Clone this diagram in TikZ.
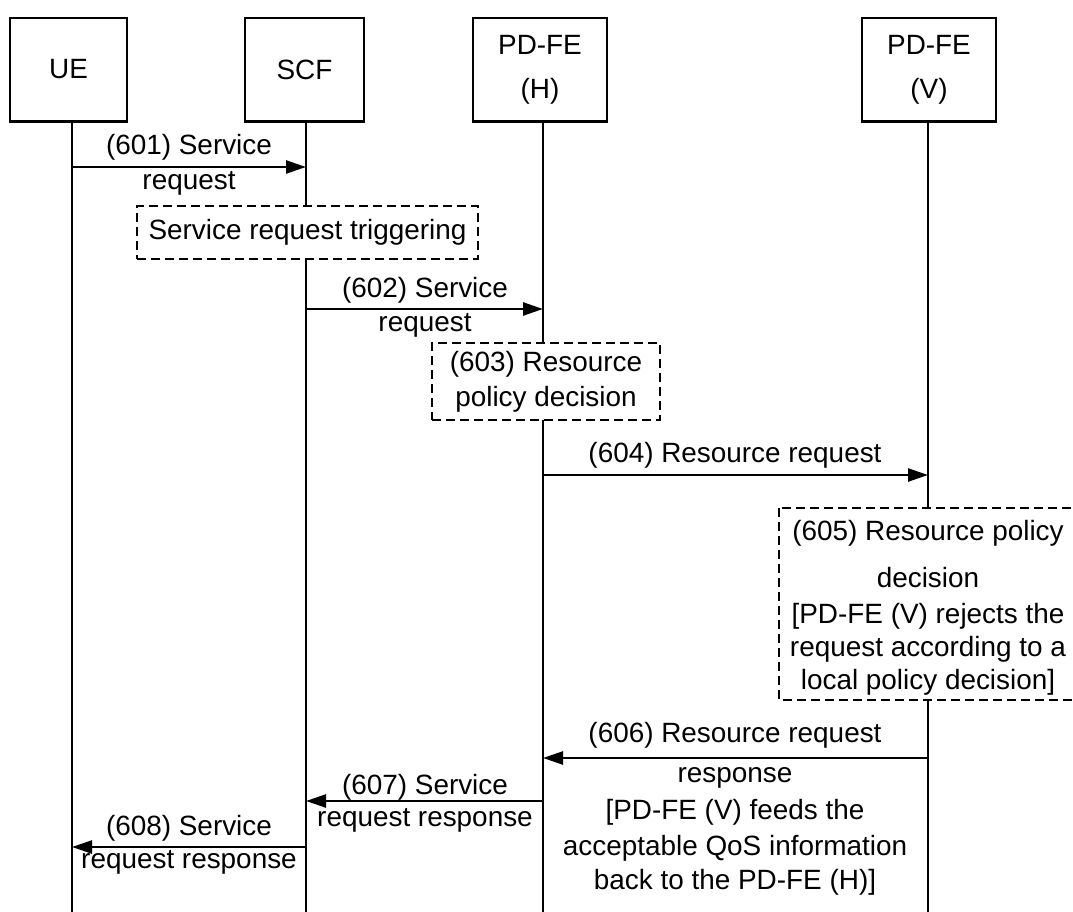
\documentclass[tikz,border=0pt]{standalone}
\usepackage{fontspec}
\setmainfont{Liberation Sans}
\usetikzlibrary{arrows.meta}
\begin{document}
\begin{tikzpicture}[x=1bp,y=-1bp,
  font=\fontsize{28}{35}\selectfont,
  actor/.style={draw, line width=1.5bp, minimum height=103bp, inner sep=0pt, align=center},
  actorbase/.style={line width=3bp},
  life/.style={line width=1.5bp},
  msg/.style={line width=2.5bp, -{Triangle[length=20bp,width=13bp]}},
  note/.style={draw, dash pattern=on 9bp off 5bp, line width=1.5bp, fill=white, align=center, inner sep=0pt},
  lbl/.style={align=center, inner sep=0pt}]
\useasboundingbox (0,0) rectangle (1073,912);
\clip (0,0) rectangle (1073,912);
% actors
\node[actor, minimum width=117bp] (ue) at (68.5,69.5) {UE};
\node[actor, minimum width=119bp] (scf) at (304.5,69.5) {SCF};
\node[actor, minimum width=134bp, font=\fontsize{28}{44}\selectfont] (pdh) at (540,69.5) {PD-FE\\(H)};
\node[actor, minimum width=134bp, font=\fontsize{28}{44}\selectfont] (pdv) at (929,69.5) {PD-FE\\(V)};
\draw[actorbase] (ue.south west) -- (ue.south east);
\draw[actorbase] (scf.south west) -- (scf.south east);
\draw[actorbase] (pdh.south west) -- (pdh.south east);
\draw[actorbase] (pdv.south west) -- (pdv.south east);
% lifeline ends
\coordinate (ueL) at (72,912);
\coordinate (scfL) at (306,912);
\coordinate (pdhL) at (543,912);
\coordinate (pdvL) at (928,912);
\draw[life] (ue.south -| ueL) -- (ueL);
\draw[life] (scf.south -| scfL) -- (scfL);
\draw[life] (pdh.south -| pdhL) -- (pdhL);
\draw[life] (pdv.south -| pdvL) -- (pdvL);
% message end points
\path (ueL |- 0,167) coordinate (m1s) (scfL |- 0,167) coordinate (m1e)
      (scfL |- 0,309) coordinate (m2s) (pdhL |- 0,309) coordinate (m2e)
      (pdhL |- 0,475) coordinate (m4s) (pdvL |- 0,475) coordinate (m4e)
      (pdvL |- 0,758) coordinate (m6s) (pdhL |- 0,758) coordinate (m6e)
      (pdhL |- 0,801) coordinate (m7s) (scfL |- 0,801) coordinate (m7e)
      (scfL |- 0,847) coordinate (m8s) (ueL |- 0,847) coordinate (m8e);
% notes
\node[note, minimum width=341bp, minimum height=53bp] (trig) at (307.5,232.5) {Service request triggering};
\node[note, minimum width=228bp, minimum height=77bp, font=\fontsize{28}{35}\selectfont] (n603) at (546,381.5) {(603) Resource\\policy decision};
\draw[note] (779,508) rectangle (1090,700);
\node[lbl] (n605a) at (928,533) {(605) Resource policy};
\node[lbl] (n605b) at (928,578) {decision};
\node[lbl] (n605c) at (928,616) {{[}PD-FE (V) rejects the};
\node[lbl] (n605d) at (928,649) {request according to a};
\node[lbl] (n605e) at (928,682) {local policy decision{]}};
% messages
\draw[msg] (m1s) -- (m1e);
\node[lbl] (l1a) at (189,147) {(601) Service};
\node[lbl] (l1b) at (189,183) {request};
\draw[msg] (m2s) -- (m2e);
\node[lbl] (l2a) at (425,290) {(602) Service};
\node[lbl] (l2b) at (425,325) {request};
\draw[msg] (m4s) -- (m4e);
\node[lbl] (l4) at (735,455) {(604) Resource request};
\draw[msg] (m6s) -- (m6e);
\node[lbl] (l6a) at (735,735) {(606) Resource request};
\node[lbl] (l6b) at (735,778) {response};
\node[lbl] (l6c) at (735,812) {{[}PD-FE (V) feeds the};
\node[lbl] (l6d) at (735,848) {acceptable QoS information};
\node[lbl] (l6e) at (735,882) {back to the PD-FE (H){]}};
\draw[msg] (m7s) -- (m7e);
\node[lbl] (l7a) at (425,787) {(607) Service};
\node[lbl] (l7b) at (425,820) {request response};
\draw[msg] (m8s) -- (m8e);
\node[lbl] (l8a) at (189,828) {(608) Service};
\node[lbl] (l8b) at (189,862) {request response};
\end{tikzpicture}
\end{document}
